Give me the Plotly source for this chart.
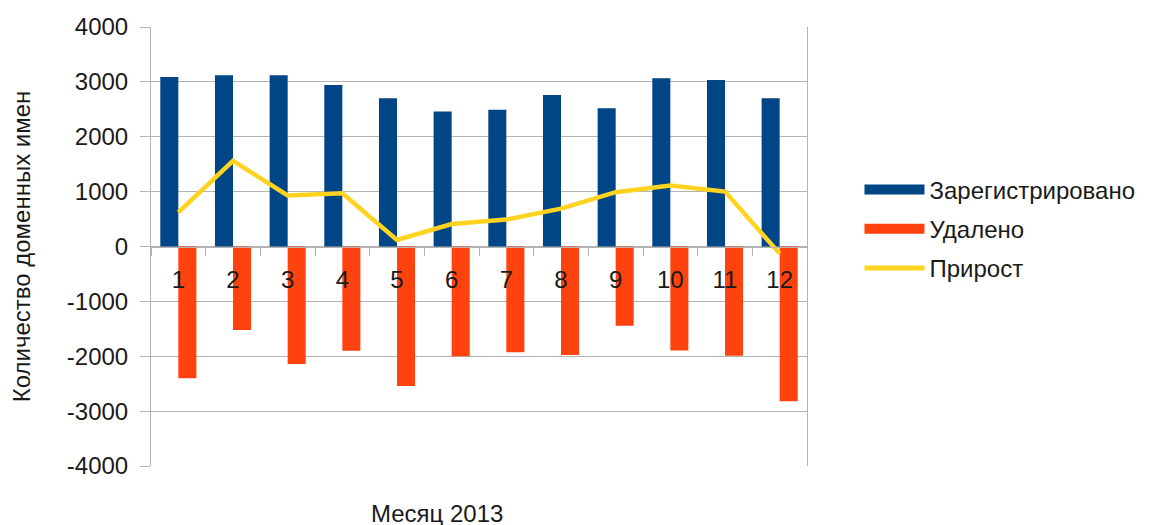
import plotly.graph_objects as go

months = [str(i) for i in range(1, 13)]
registered = [3090, 3120, 3120, 2945, 2700, 2460, 2490, 2760, 2520, 3065, 3035, 2700]
deleted = [-2400, -1520, -2140, -1900, -2540, -2000, -1925, -1975, -1445, -1895, -1990, -2820]
growth = [620, 1560, 930, 970, 120, 410, 490, 690, 990, 1110, 1000, -130]

y_ticks = [-4000, -3000, -2000, -1000, 0, 1000, 2000, 3000, 4000]
y_tick_text = ["-4000", "-3000", "-2000", "-1000", "0", "1000", "2000", "3000", "4000"]

BLUE = "#004586"
ORANGE = "#ff420e"
YELLOW = "#ffd320"
GRID = "#b3b3b3"
FONT = "Liberation Sans, Arial, sans-serif"
FS = 24

fig = go.Figure()
fig.add_trace(go.Bar(x=months, y=registered, name="Зарегистрировано", showlegend=False,
                     marker=dict(color=BLUE, line=dict(width=0))))
fig.add_trace(go.Bar(x=months, y=deleted, name="Удалено", showlegend=False,
                     marker=dict(color=ORANGE, line=dict(width=0))))
fig.add_trace(go.Scatter(x=months, y=growth, name="Прирост", mode="lines", showlegend=False,
                         line=dict(color=YELLOW, width=4.5)))

# legend entries (wide swatches like the original)
for nm, col, w in [("Зарегистрировано", BLUE, 15), ("Удалено", ORANGE, 15), ("Прирост", YELLOW, 5)]:
    fig.add_trace(go.Scatter(x=[None], y=[None], name=nm, mode="lines",
                             line=dict(color=col, width=w), legendgroup=nm))

fig.update_layout(
    width=1152, height=525,
    margin=dict(l=143, r=353, t=19, b=67, autoexpand=False),
    paper_bgcolor="white", plot_bgcolor="white",
    barmode="group", bargap=0.34, bargroupgap=0,
    font=dict(family=FONT, size=FS, color="#1a1a1a"),
    legend=dict(x=1.08, y=0.54, xanchor="left", yanchor="middle",
                font=dict(size=FS), itemwidth=60, tracegroupgap=5,
                bgcolor="rgba(0,0,0,0)"),
    xaxis=dict(type="category", anchor="free", position=0.5, automargin=False,
               showline=True, linecolor=GRID, linewidth=1,
               ticks="outside", tickson="boundaries", ticklen=8, tickcolor=GRID,
               ticklabelstandoff=12, showgrid=False, zeroline=False,
               tickfont=dict(size=FS)),
    yaxis=dict(range=[-4000, 4000], tickvals=y_ticks, ticktext=y_tick_text, showgrid=True,
               gridcolor=GRID, gridwidth=1, zeroline=False, automargin=False,
               showline=True, linecolor=GRID, linewidth=1, mirror=True,
               ticks="outside", ticklen=10, tickcolor=GRID, ticklabelstandoff=7,
               tickfont=dict(size=FS),
               title=dict(text="Количество доменных имен", font=dict(size=FS), standoff=30)),
    annotations=[dict(text="Месяц 2013", xref="paper", yref="paper",
                      x=(437 - 151) / 656, y=-(513 - 466) / 439, xanchor="center", yanchor="middle",
                      showarrow=False, font=dict(size=FS))],
)

fig.write_html("out.html")
